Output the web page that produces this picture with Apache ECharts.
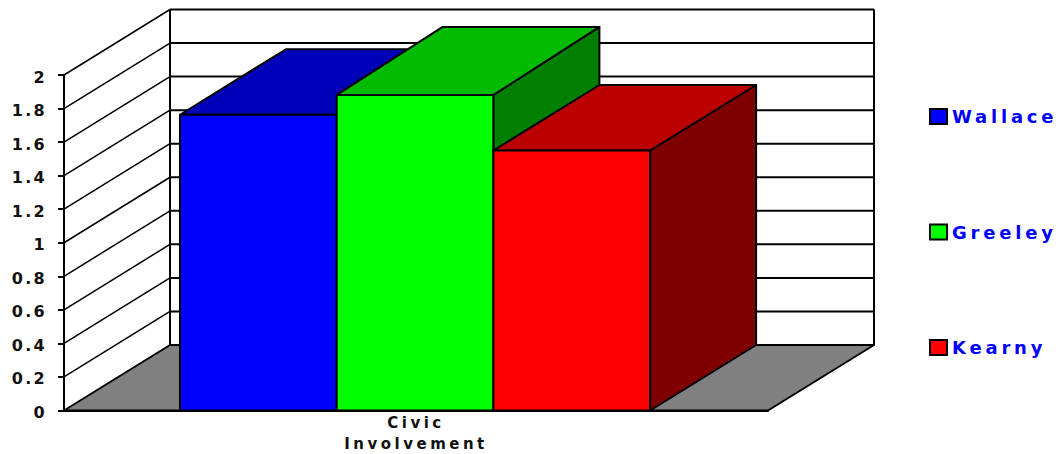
<!DOCTYPE html>
<html>
<head>
<meta charset="utf-8">
<style>
  html, body { margin: 0; padding: 0; background: #fff; }
  #chart { width: 1060px; height: 454px; }
  #chart text { letter-spacing: 2.3px; }
  #chart text[style*="15px"] { letter-spacing: 3.5px; }
  #chart text[style*="18px"] { letter-spacing: 3.8px; }
</style>
<script src="https://cdn.jsdelivr.net/npm/echarts@6/dist/echarts.min.js"></script>
</head>
<body>
<div id="chart"></div>
<script>
// Chart data
const categories = ['Civic\nInvolvement'];
const wallaceValues = [1.763];
const greeleyValues = [1.881];
const kearnyValues = [1.55];
const yTicks = [0.2, 0.4, 0.6, 0.8, 1, 1.2, 1.4, 1.6, 1.8, 2];

// Oblique projection: how far the back plane sits from the front plane
const DEPTH_X = 106;
const DEPTH_Y = 65.5;
const BAR_START = 116 / 704;   // gap before the first bar, as a share of the band
const BAR_WIDTH = 156.7 / 704; // one bar, as a share of the band
const INK = '#000';

function line(x1, y1, x2, y2, width) {
  return { type: 'line', shape: { x1, y1, x2, y2 }, style: { stroke: INK, lineWidth: width } };
}
function poly(points, fill, width) {
  return { type: 'polygon', shape: { points }, style: { fill, stroke: INK, lineWidth: width, lineJoin: 'round' } };
}

// Floor parallelogram plus the two vertical edges of the back wall
function renderFloor(params, api) {
  const o = api.coord([0, 0]);
  const band = api.size([1, 0])[0];
  const left = o[0] - band / 2;
  const right = o[0] + band / 2;
  const y0 = o[1];
  const yTop = api.coord([0, 2])[1];
  return { type: 'group', children: [
    poly([[left, y0], [right, y0], [right + DEPTH_X, y0 - DEPTH_Y], [left + DEPTH_X, y0 - DEPTH_Y]], '#808080', 2),
    line(left + DEPTH_X, y0 - DEPTH_Y, left + DEPTH_X, yTop - DEPTH_Y, 2),
    line(right + DEPTH_X, y0 - DEPTH_Y, right + DEPTH_X, yTop - DEPTH_Y, 2)
  ] };
}

// One gridline: a diagonal on the side wall, then across the back wall
function renderGridline(params, api) {
  const p = api.coord([0, api.value(1)]);
  const band = api.size([1, 0])[0];
  const left = p[0] - band / 2;
  const right = p[0] + band / 2;
  const backY = p[1] - DEPTH_Y;
  return { type: 'group', children: [
    line(left, p[1], left + DEPTH_X, backY, 1.5),
    line(left + DEPTH_X, backY, right + DEPTH_X, backY, 2)
  ] };
}

// A box: front face, then the top and right faces offset by the depth
function boxRenderer(slot, front, top, side, rise) {
  return function (params, api) {
    const base = api.coord([0, 0]);
    const head = api.coord([0, api.value(1)]);
    const band = api.size([1, 0])[0];
    const x0 = base[0] - band / 2 + band * (BAR_START + BAR_WIDTH * slot);
    const x1 = x0 + band * BAR_WIDTH;
    const y0 = base[1];
    const y1 = head[1];
    return { type: 'group', children: [
      poly([[x1, y1], [x1 + DEPTH_X, y1 - rise], [x1 + DEPTH_X, y0 - DEPTH_Y], [x1, y0]], side, 2),
      poly([[x0, y1], [x0 + DEPTH_X, y1 - rise], [x1 + DEPTH_X, y1 - rise], [x1, y1]], top, 2),
      poly([[x0, y1], [x1, y1], [x1, y0], [x0, y0]], front, 2)
    ] };
  };
}

function boxSeries(name, values, slot, front, top, side, rise) {
  return {
    type: 'custom',
    name,
    data: values.map((v, i) => [i, v]),
    encode: { x: 0, y: 1 },
    itemStyle: { color: front, borderColor: INK, borderWidth: 2 },
    renderItem: boxRenderer(slot, front, top, side, rise),
    silent: true
  };
}

const chart = echarts.init(document.getElementById('chart'), null, { renderer: 'svg' });
chart.setOption({
  animation: false,
  backgroundColor: '#fff',
  grid: { left: 64, top: 75, width: 704, height: 335.5, containLabel: false, outerBoundsMode: 'none' },
  xAxis: {
    type: 'category',
    data: categories,
    boundaryGap: true,
    axisLine: { lineStyle: { color: INK, width: 2 } },
    axisTick: { alignWithLabel: true, length: 5, lineStyle: { color: INK, width: 1 } },
    axisLabel: { color: '#111', fontFamily: 'DejaVu Sans', fontWeight: 'bold', fontSize: 15, lineHeight: 21, margin: 2 }
  },
  yAxis: {
    type: 'value',
    min: 0,
    max: 2,
    interval: 0.2,
    splitLine: { show: false },
    axisLine: { show: true, lineStyle: { color: INK, width: 2 } },
    axisTick: { show: true, length: 6, lineStyle: { color: INK, width: 2 } },
    axisLabel: { color: '#111', fontFamily: 'DejaVu Sans', fontWeight: 'bold', fontSize: 16, margin: 17, verticalAlign: 'top', lineHeight: 4 }
  },
  legend: {
    orient: 'vertical',
    left: 924,
    top: 102.5,
    itemWidth: 17,
    itemHeight: 15,
    itemGap: 97.5,
    icon: 'rect',
    data: ['Wallace', 'Greeley', 'Kearny'],
    selectedMode: false,
    textStyle: { color: '#0000ff', fontFamily: 'DejaVu Sans', fontWeight: 'bold', fontSize: 18, padding: [0, 0, 4, 0] }
  },
  series: [
    { type: 'custom', name: 'floor', data: [[0, 0]], encode: { x: 0, y: 1 }, renderItem: renderFloor, silent: true },
    { type: 'custom', name: 'gridlines', data: yTicks.map(v => [0, v]), encode: { x: 0, y: 1 }, renderItem: renderGridline, silent: true },
    boxSeries('Wallace', wallaceValues, 0, '#0000ff', '#0000b8', '#00007f', DEPTH_Y),
    boxSeries('Greeley', greeleyValues, 1, '#00ff00', '#00bb00', '#007f00', 68),
    boxSeries('Kearny', kearnyValues, 2, '#ff0000', '#bb0000', '#7f0000', DEPTH_Y)
  ]
});
</script>
</body>
</html>
